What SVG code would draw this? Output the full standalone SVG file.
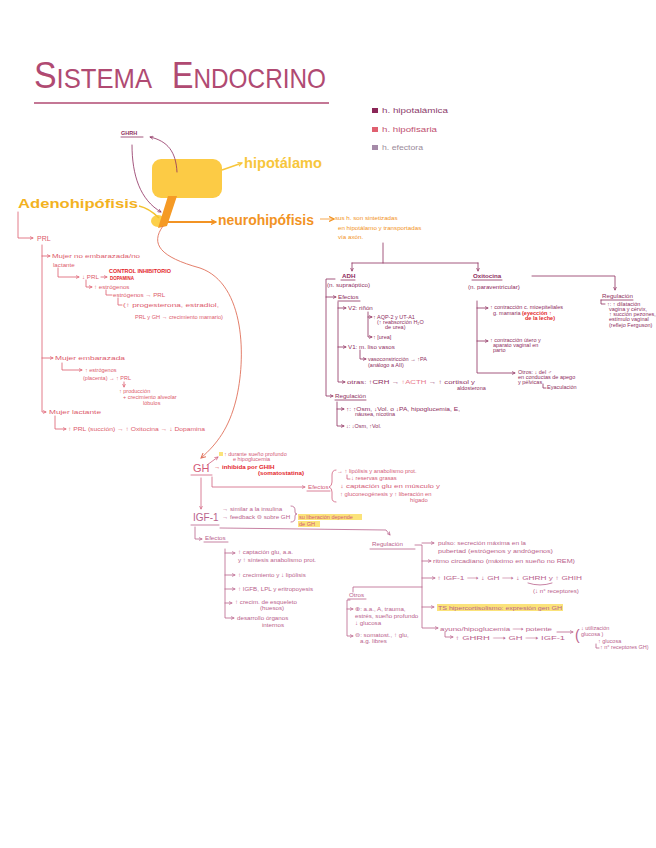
<svg xmlns="http://www.w3.org/2000/svg" width="656" height="848" viewBox="0 0 656 848">
<style>
text{font-family:"Liberation Sans","DejaVu Sans",sans-serif}
.s{font-size:6.2px}
.xs{font-size:5.5px}
.prl{fill:#dc5a6c}
.adh{fill:#8e2d5e}
.gh{fill:#d35a78}
.igf{fill:#b9628c}
.red{fill:#e3262b;font-weight:bold}
.ln{fill:none;stroke-width:0.8;stroke-linecap:round;stroke-linejoin:round}
.lp{stroke:#dc5a6c}
.la{stroke:#8e2d5e}
.lg{stroke:#d0607e}
.li{stroke:#b9628c}
.hl{fill:#fbe37a}
.big{font-weight:bold}
</style>
<defs>
<marker id="ap" viewBox="0 0 6 6" refX="5" refY="3" markerWidth="4" markerHeight="4" orient="auto" markerUnits="userSpaceOnUse"><path d="M0,0.5 L5,3 L0,5.5" fill="none" stroke="#dc5a6c" stroke-width="1"/></marker>
<marker id="aa" viewBox="0 0 6 6" refX="5" refY="3" markerWidth="4" markerHeight="4" orient="auto" markerUnits="userSpaceOnUse"><path d="M0,0.5 L5,3 L0,5.5" fill="none" stroke="#8e2d5e" stroke-width="1"/></marker>
<marker id="ag" viewBox="0 0 6 6" refX="5" refY="3" markerWidth="4" markerHeight="4" orient="auto" markerUnits="userSpaceOnUse"><path d="M0,0.5 L5,3 L0,5.5" fill="none" stroke="#d0607e" stroke-width="1"/></marker>
<marker id="ai" viewBox="0 0 6 6" refX="5" refY="3" markerWidth="4" markerHeight="4" orient="auto" markerUnits="userSpaceOnUse"><path d="M0,0.5 L5,3 L0,5.5" fill="none" stroke="#b9628c" stroke-width="1"/></marker>
<marker id="ao" viewBox="0 0 6 6" refX="5" refY="3" markerWidth="6" markerHeight="6" orient="auto" markerUnits="userSpaceOnUse"><path d="M0,0.5 L5,3 L0,5.5" fill="none" stroke="#f29324" stroke-width="1.2"/></marker>
<marker id="ay" viewBox="0 0 6 6" refX="5" refY="3" markerWidth="5" markerHeight="5" orient="auto" markerUnits="userSpaceOnUse"><path d="M0,0.5 L5,3 L0,5.5" fill="none" stroke="#f7c63c" stroke-width="1.2"/></marker>
<marker id="ac" viewBox="0 0 6 6" refX="5" refY="3" markerWidth="6" markerHeight="6" orient="auto" markerUnits="userSpaceOnUse"><path d="M0,0.5 L5,3 L0,5.5" fill="none" stroke="#e0705a" stroke-width="1"/></marker>
</defs>
<rect width="656" height="848" fill="#ffffff"/>

<g id="title">
<text x="34" y="88" fill="#b04a72" font-family="Lato, 'Liberation Sans', sans-serif" font-weight="300" textLength="118" lengthAdjust="spacingAndGlyphs"><tspan font-size="37">S</tspan><tspan font-size="28">ISTEMA</tspan></text>
<text x="172" y="88" fill="#b04a72" font-family="Lato, 'Liberation Sans', sans-serif" font-weight="300" textLength="154" lengthAdjust="spacingAndGlyphs"><tspan font-size="37">E</tspan><tspan font-size="28">NDOCRINO</tspan></text>
<line x1="34" y1="103" x2="329" y2="103" stroke="#b04a72" stroke-width="1.4"/>
</g>

<g id="legend">
<rect x="372" y="108" width="6" height="5" fill="#8b2657"/>
<text x="382" y="113" font-size="6.5" fill="#8b3a6a" textLength="66" lengthAdjust="spacingAndGlyphs">h. hipotalámica</text>
<rect x="372" y="127" width="6" height="5" fill="#e06070"/>
<text x="382" y="132" font-size="6.5" fill="#c05070" textLength="55" lengthAdjust="spacingAndGlyphs">h. hipofisaria</text>
<rect x="372" y="145" width="6" height="5" fill="#a58aa8"/>
<text x="382" y="150" font-size="6.5" fill="#9a8a9a" textLength="41" lengthAdjust="spacingAndGlyphs">h. efectora</text>
</g>

<g id="hipotalamo">
<rect x="152" y="159" width="70" height="39" rx="9" fill="#fccb45"/>
<text x="244" y="168" font-size="14.5" class="big" fill="#f7c63c" textLength="78" lengthAdjust="spacingAndGlyphs">hipotálamo</text>
</g>

<g id="adenohipofisis">
<ellipse cx="158" cy="221" rx="7" ry="6" fill="#fcd04b"/>
<path d="M168,196 L177,196 L167,226 L158,228 Z" fill="#f59a25"/>
<text x="18" y="208" font-size="12.5" class="big" fill="#f3b21f" textLength="120" lengthAdjust="spacingAndGlyphs">Adenohipófisis</text>
</g>

<g id="connectors">
<path d="M177,172 C176,152 168,141 150,137" class="ln la" marker-end="url(#aa)"/>
<path d="M132,145 C132,175 140,200 161,212" class="ln la" marker-end="url(#aa)"/>
<path d="M222,170 L242,163" fill="none" stroke="#f7c63c" stroke-width="1.5" marker-end="url(#ay)"/>
<path d="M139,206 C148,208 153,212 159,218" fill="none" stroke="#f3c230" stroke-width="1.5"/>
<path d="M168,222 H216" fill="none" stroke="#f29324" stroke-width="2" marker-end="url(#ao)"/>
<path d="M320,219 H334" fill="none" stroke="#f29324" stroke-width="0.8" marker-end="url(#ao)"/>
<path d="M163,226 C150,244 160,257 200,268 C246,284 246,360 236,400 C229,428 217,444 201,458" fill="none" stroke="#e0705a" stroke-width="0.9" marker-end="url(#ac)"/>
<path d="M18,212 V238 H33" class="ln lp" marker-end="url(#ap)"/>
<path d="M42,245 V412 H46" class="ln lp" marker-end="url(#ap)"/>
<path d="M42,256 H50" class="ln lp" marker-end="url(#ap)"/>
<path d="M42,358 H53" class="ln lp" marker-end="url(#ap)"/>
<path d="M58,268 V277 H79" class="ln lp" marker-end="url(#ap)"/>
<path d="M101,277 H107" class="ln lp" marker-end="url(#ap)"/>
<path d="M86,280 V287 H92" class="ln lp" marker-end="url(#ap)"/>
<path d="M106,290 V295 H112" class="ln lp"/>
<path d="M118,298 V305 H122" class="ln lp"/>
<path d="M62,363 V370 H82" class="ln lp" marker-end="url(#ap)"/>
<path d="M55,416 V429 H66" class="ln lp" marker-end="url(#ap)"/>
<path d="M383,243 V263 M352,263 H478" class="ln la"/>
<path d="M352,263 V271" class="ln la" marker-end="url(#aa)"/>
<path d="M478,263 V271" class="ln la" marker-end="url(#aa)"/>
<path d="M335,279 H326 V396 H333" class="ln la" marker-end="url(#aa)"/>
<path d="M326,297 H336" class="ln la" marker-end="url(#aa)"/>
<path d="M338,302 V382 H345" class="ln la" marker-end="url(#aa)"/>
<path d="M338,308 H346" class="ln la" marker-end="url(#aa)"/>
<path d="M338,347 H346" class="ln la" marker-end="url(#aa)"/>
<path d="M368,312 V337 H372" class="ln la" marker-end="url(#aa)"/>
<path d="M368,317 H372" class="ln la" marker-end="url(#aa)"/>
<path d="M360,350 V359 H366" class="ln la" marker-end="url(#aa)"/>
<path d="M337,402 V426 H344" class="ln la" marker-end="url(#aa)"/>
<path d="M337,409 H344" class="ln la" marker-end="url(#aa)"/>
<path d="M532,276 H615 V290" class="ln la" marker-end="url(#aa)"/>
<path d="M601,300 V304 H605" class="ln la"/>
<path d="M477,301 V373 H515" class="ln la" marker-end="url(#aa)"/>
<path d="M477,308 H488" class="ln la" marker-end="url(#aa)"/>
<path d="M477,341 H488" class="ln la" marker-end="url(#aa)"/>
<path d="M543,384 V388 H546" class="ln la"/>
<path d="M207,465 L218,457" class="ln lg" marker-end="url(#ag)"/>
<path d="M212,477 V487 H305" class="ln lg" marker-end="url(#ag)"/>
<path d="M336,470 Q332,470 332,475 V482 Q332,486 329,487 Q332,488 332,492 V498 Q332,502 336,502" class="ln lg"/>
<path d="M347,475 V479 H350" class="ln lg"/>
<path d="M201,478 V509" class="ln lg" marker-end="url(#ag)"/>
<path d="M291,506 Q295,506 295,510 V512 Q295,514 297,514 Q295,514 295,516 V518 Q295,522 291,522" class="ln li"/>
<path d="M195,527 V539 H202" class="ln li" marker-end="url(#ai)"/>
<path d="M220,528 L386,530 L390,535" class="ln li" marker-end="url(#ai)"/>
<path d="M225,549 V618 H234" class="ln li" marker-end="url(#ai)"/>
<path d="M225,553 H235" class="ln li" marker-end="url(#ai)"/>
<path d="M225,575 H235" class="ln li" marker-end="url(#ai)"/>
<path d="M225,589 H235" class="ln li" marker-end="url(#ai)"/>
<path d="M225,603 H232" class="ln li" marker-end="url(#ai)"/>
<path d="M415,545 H422 V628 H438" class="ln li" marker-end="url(#ai)"/>
<path d="M422,543 H434" class="ln li" marker-end="url(#ai)"/>
<path d="M422,561 H431" class="ln li" marker-end="url(#ai)"/>
<path d="M422,578 H435" class="ln li" marker-end="url(#ai)"/>
<path d="M422,607 H434" class="ln li" marker-end="url(#ai)"/>
<path d="M422,587 H353 V592" class="ln li"/>
<path d="M350,600 H347 V636 H353" class="ln li" marker-end="url(#ai)"/>
<path d="M347,609 H353" class="ln li" marker-end="url(#ai)"/>
<path d="M557,632 H573" class="ln li" marker-end="url(#ai)"/>
<path d="M445,632 V637 H453" class="ln li" marker-end="url(#ai)"/>
<path d="M596,644 V648 H599" class="ln li"/>
<path d="M528,583 Q540,587 552,583" class="ln li"/>
<path d="M124,382 V387" class="ln lp" marker-end="url(#ap)"/>
</g>

<g id="ghrh">
<text x="121" y="135" font-size="5.5" class="adh" font-weight="bold">GHRH</text>
<line x1="121" y1="137" x2="143" y2="137" class="ln la" stroke-width="0.5"/>
</g>

<g id="neurohipofisis">
<text x="218" y="225" font-size="14.5" class="big" fill="#f29324" textLength="96" lengthAdjust="spacingAndGlyphs">neurohipófisis</text>
<text class="s" fill="#f29324"><tspan x="335" y="220">sus h. son sintetizadas</tspan><tspan x="338" y="230">en hipotálamo y transportadas</tspan><tspan x="338" y="239">vía axón.</tspan></text>
</g>

<g id="prl">
<text x="37" y="241" font-size="7" class="prl">PRL</text>
<text class="s prl"><tspan x="52" y="258" textLength="88" lengthAdjust="spacingAndGlyphs">Mujer no embarazada/no</tspan><tspan x="53" y="267">lactante</tspan></text>
<text x="82" y="279" class="s prl">↓ PRL</text>
<text font-size="5" class="red"><tspan x="109" y="273" textLength="62" lengthAdjust="spacingAndGlyphs">CONTROL INHIBITORIO</tspan><tspan x="110" y="280" textLength="24" lengthAdjust="spacingAndGlyphs">DOPAMINA</tspan></text>
<text x="94" y="289" class="s prl">↑ estrógenos</text>
<text x="113" y="297" class="s prl">estrógenos → PRL</text>
<text class="s prl"><tspan x="123" y="307" textLength="96" lengthAdjust="spacingAndGlyphs">(↑ progesterona, estradiol,</tspan><tspan x="135" y="319" textLength="88" lengthAdjust="spacingAndGlyphs">PRL y GH → crecimiento mamario)</tspan></text>
<text x="55" y="360" class="s prl" textLength="70" lengthAdjust="spacingAndGlyphs">Mujer embarazada</text>
<text x="85" y="372" class="xs prl">↑ estrógenos</text>
<text x="83" y="380" class="xs prl">(placenta) → ↑ PRL</text>
<text x="119" y="393" class="xs prl">↑ producción</text>
<text x="123" y="399" class="xs prl">+ crecimiento alveolar</text>
<text x="143" y="405" class="xs prl">lóbulos</text>
<text x="49" y="414" class="s prl" textLength="52" lengthAdjust="spacingAndGlyphs">Mujer lactante</text>
<text x="68" y="431" class="s prl" textLength="137" lengthAdjust="spacingAndGlyphs">↑ PRL (succión) → ↑ Oxitocina → ↓ Dopamina</text>
</g>

<g id="adh">
<text x="342" y="278" class="s adh" font-weight="bold">ADH</text>
<line x1="341" y1="280" x2="355" y2="280" class="ln la" stroke-width="0.5"/>
<text x="327" y="287" class="s adh">(n. supraóptico)</text>
<text x="338" y="299" class="s adh">Efectos</text>
<line x1="338" y1="301" x2="360" y2="301" class="ln la" stroke-width="0.5"/>
<text x="348" y="310" class="s adh">V2: riñón</text>
<text class="xs adh"><tspan x="373" y="319">↑ AQP-2 y UT-A1</tspan><tspan x="377" y="324">(↑ reabsorción H₂O</tspan><tspan x="385" y="329">de urea)</tspan><tspan x="373" y="339">↑ [urea]</tspan></text>
<text x="348" y="349" class="s adh">V1: m. liso vasos</text>
<text class="xs adh"><tspan x="368" y="361">vasoconstricción → ↑PA</tspan><tspan x="368" y="367">(análogo a AII)</tspan></text>
<text x="347" y="384" class="s adh" textLength="128" lengthAdjust="spacingAndGlyphs">otras: ↑CRH → <tspan fill="#e8788a">↑ACTH</tspan> → ↑ cortisol y</text>
<text x="457" y="390" class="xs adh">aldosterona</text>
<text x="335" y="398" class="s adh">Regulación</text>
<line x1="335" y1="400" x2="366" y2="400" class="ln la" stroke-width="0.5"/>
<text class="xs adh"><tspan x="346" y="411" textLength="114" lengthAdjust="spacingAndGlyphs">↑: ↑Osm, ↓Vol. o ↓PA, hipoglucemia, E,</tspan><tspan x="355" y="416">náusea, nicotina</tspan></text>
<text x="346" y="428" class="xs adh">↓: ↓Osm, ↑Vol.</text>
</g>

<g id="oxitocina">
<text x="473" y="278" class="s adh" font-weight="bold">Oxitocina</text>
<line x1="472" y1="280" x2="502" y2="280" class="ln la" stroke-width="0.5"/>
<text x="468" y="289" class="s adh">(n. paraventricular)</text>
<text x="602" y="298" class="s adh">Regulación</text>
<line x1="601" y1="300" x2="633" y2="300" class="ln la" stroke-width="0.5"/>
<text class="xs adh"><tspan x="607" y="306">↑: ↑ dilatación</tspan><tspan x="609" y="311">vagina y cérvix,</tspan><tspan x="609" y="316">↑ succión pezones,</tspan><tspan x="609" y="321">estímulo vaginal</tspan><tspan x="609" y="327">(reflejo Ferguson)</tspan></text>
<text class="xs adh"><tspan x="490" y="309">↑ contracción c. mioepiteliales</tspan><tspan x="493" y="315">g. mamaria</tspan></text>
<text class="xs red" font-weight="normal"><tspan x="522" y="315">(eyección ↑</tspan><tspan x="525" y="320">de la leche)</tspan></text>
<text class="xs adh"><tspan x="490" y="342">↑ contracción útero y</tspan><tspan x="493" y="347">aparato vaginal en</tspan><tspan x="493" y="352">parto</tspan></text>
<text class="xs adh"><tspan x="518" y="374">Otros: ↓ del ♂</tspan><tspan x="518" y="379">en conductas de apego</tspan><tspan x="518" y="384">y pélvicas</tspan><tspan x="547" y="389">Eyaculación</tspan></text>
</g>

<g id="gh">
<text x="193" y="472" font-size="11" class="gh">GH</text>
<line x1="191" y1="475" x2="212" y2="475" class="ln lg"/>
<rect x="219" y="452" width="4" height="4" class="hl"/>
<text class="xs gh"><tspan x="224" y="456">↑ durante sueño profundo</tspan><tspan x="233" y="461">e hipoglucemia</tspan></text>
<text class="s red"><tspan x="214" y="469">→ inhibida por GHIH</tspan><tspan x="258" y="475">(somatostatina)</tspan></text>
<text x="308" y="489" class="s gh">Efectos</text>
<line x1="307" y1="491" x2="330" y2="491" class="ln lg" stroke-width="0.5"/>
<text font-size="5.8" class="gh"><tspan x="337" y="473">→ ↑ lipólisis y anabolismo prot.</tspan><tspan x="351" y="480">↓ reservas grasas</tspan><tspan x="340" y="488" textLength="100" lengthAdjust="spacingAndGlyphs">↓ captación glu en músculo y</tspan><tspan x="340" y="496">↑ gluconeogénesis y ↑ liberación en</tspan><tspan x="410" y="502">hígado</tspan></text>
</g>

<g id="igf1">
<text x="193" y="521" font-size="10" class="igf">IGF-1</text>
<line x1="191" y1="525" x2="219" y2="525" class="ln li"/>
<text class="s igf"><tspan x="222" y="511">→ similar a la insulina</tspan><tspan x="222" y="519">→ feedback ⊖ sobre GH</tspan></text>
<rect x="298" y="514" width="64" height="6" class="hl"/>
<rect x="298" y="521" width="22" height="6" class="hl"/>
<text class="xs gh"><tspan x="299" y="519">su liberación depende</tspan><tspan x="299" y="526">de GH</tspan></text>
<text x="205" y="540" class="s igf">Efectos</text>
<line x1="204" y1="542" x2="228" y2="542" class="ln li" stroke-width="0.5"/>
<text class="s igf"><tspan x="238" y="554">↑ captación glu, a.a.</tspan><tspan x="238" y="562">y ↑ síntesis anabolismo prot.</tspan></text>
<text x="238" y="577" class="s igf">↑ crecimiento y ↓ lipólisis</text>
<text x="238" y="591" class="s igf">↑ IGFB, LPL y eritropoyesis</text>
<text class="s igf"><tspan x="235" y="604">↑ crecim. de esqueleto</tspan><tspan x="260" y="610">(huesos)</tspan></text>
<text class="s igf"><tspan x="237" y="620">desarrollo órganos</tspan><tspan x="262" y="627">internos</tspan></text>
</g>

<g id="regulacion">
<text x="372" y="546" class="s igf">Regulación</text>
<line x1="370" y1="549" x2="415" y2="549" class="ln li" stroke-width="0.5"/>
<text class="s igf"><tspan x="438" y="545" textLength="88" lengthAdjust="spacingAndGlyphs">pulso: secreción máxima en la</tspan><tspan x="438" y="553" textLength="115" lengthAdjust="spacingAndGlyphs">pubertad (estrógenos y andrógenos)</tspan></text>
<text x="433" y="563" class="s igf" textLength="142" lengthAdjust="spacingAndGlyphs">ritmo circadiano (máximo en sueño no REM)</text>
<text x="437" y="580" class="s igf" textLength="145" lengthAdjust="spacingAndGlyphs">↑ IGF-1 ⟶ ↓ GH ⟶ ↓ GHRH y ↑ GHIH</text>
<text x="533" y="593" class="s igf">(↓ n° receptores)</text>
<rect x="437" y="604" width="126" height="7" class="hl"/>
<text x="438" y="610" class="s igf" textLength="124" lengthAdjust="spacingAndGlyphs">TS hipercortisolismo: expresión gen GH</text>
<text x="440" y="631" class="s igf" textLength="112" lengthAdjust="spacingAndGlyphs">ayuno/hipoglucemia ⟶ potente</text>
<text x="455" y="640" class="s igf" textLength="110" lengthAdjust="spacingAndGlyphs">↑ GHRH ⟶ GH ⟶ IGF-1</text>
<text x="575" y="640" font-size="14" class="igf">(</text>
<text class="xs igf"><tspan x="581" y="630">↓ utilización</tspan><tspan x="581" y="636">glucosa )</tspan><tspan x="598" y="643">↑ glucosa</tspan><tspan x="600" y="649">↑ n° receptores GH)</tspan></text>
</g>

<g id="otros">
<text x="349" y="597" class="s igf">Otros</text>
<line x1="348" y1="599" x2="366" y2="599" class="ln li" stroke-width="0.5"/>
<text class="s igf"><tspan x="355" y="611">⊕: a.a., A, trauma,</tspan><tspan x="355" y="618">estrés, sueño profundo</tspan><tspan x="355" y="625">↓ glucosa</tspan></text>
<text class="s igf"><tspan x="355" y="637">⊖: somatost., ↑ glu,</tspan><tspan x="360" y="643">a.g. libres</tspan></text>
</g>
</svg>
